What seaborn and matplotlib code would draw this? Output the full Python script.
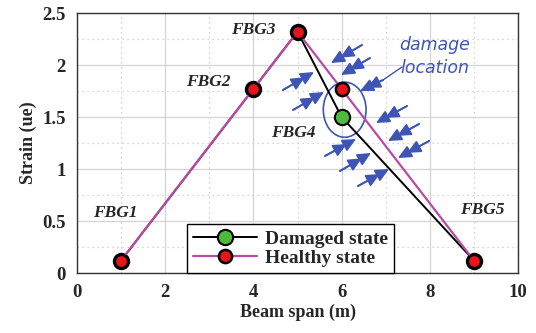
import matplotlib
matplotlib.use("Agg")
import matplotlib.pyplot as plt
import seaborn as sns
import pandas as pd
from matplotlib.patches import Ellipse
from matplotlib.ticker import MultipleLocator

positions = [1, 4, 5, 6, 9]
healthy = [0.12, 1.77, 2.32, 1.77, 0.12]
damaged = [0.12, 1.77, 2.32, 1.50, 0.12]
sensor_labels = ["FBG1", "FBG2", "FBG3", "FBG4", "FBG5"]
xticks = [0, 2, 4, 6, 8, 10]
yticks = [0, 0.5, 1, 1.5, 2, 2.5]

sns.set_style("white")
plt.rcParams['font.family'] = ['Liberation Serif', 'DejaVu Serif']

fig = plt.figure(figsize=(5.36, 3.33), dpi=100)
ax = fig.add_axes([77/536, 1-273/333, (518-77)/536, (273-13)/333])

df_d = pd.DataFrame({"x": positions, "y": damaged})
df_h = pd.DataFrame({"x": positions, "y": healthy})

sns.lineplot(data=df_d, x="x", y="y", ax=ax, color="black", lw=1.4,
             marker="o", markersize=11, markerfacecolor="#4cbb3c",
             markeredgecolor="black", markeredgewidth=1.5, label="Damaged state",
             zorder=3)
sns.lineplot(data=df_h, x="x", y="y", ax=ax, color="#b84ba3", lw=1.6,
             marker="o", markersize=9.5, markerfacecolor="#e8141b",
             markeredgecolor="black", markeredgewidth=1.8, label="Healthy state",
             zorder=4)

ax.set_xlim(0, 10)
ax.set_ylim(0, 2.5)
ax.set_xticks(xticks)
ax.set_yticks(yticks)
ax.set_xticklabels([f"{t:g}" for t in xticks])
ax.set_yticklabels([f"{t:g}" for t in yticks])
ax.xaxis.set_minor_locator(MultipleLocator(1))
ax.yaxis.set_minor_locator(MultipleLocator(0.25))
ax.grid(which="major", color="#d4d4d4", lw=0.9, ls="-")
ax.grid(which="minor", color="#c8c8c8", lw=0.9, ls=(0, (1, 3)))
ax.tick_params(axis="both", which="major", labelsize=13.5, direction="in",
               length=4, width=0.8, pad=8)
ax.tick_params(which="minor", length=0)
for lab in ax.get_xticklabels() + ax.get_yticklabels():
    lab.set_fontweight("bold")
for s in ax.spines.values():
    s.set_color("#333333")
    s.set_linewidth(1.0)

ax.set_xlabel("Beam span (m)", fontsize=13, fontweight="bold", labelpad=2)
ax.set_ylabel("Strain (ue)", fontsize=13, fontweight="bold", labelpad=4)

lab_pos = [(0.86, 0.58), (2.97, 1.84), (3.99, 2.34), (4.90, 1.35), (9.18, 0.61)]
for (tx, ty), s in zip(lab_pos, sensor_labels):
    ax.text(tx, ty, s, fontsize=12.5, fontweight="bold", style="italic",
            ha="center", va="center", zorder=6)

blue = "#3e55b5"
ax.text(8.12, 2.19, "damage", fontsize=12.5, style="italic", color=blue,
        family=["DejaVu Sans"], ha="center", va="center")
ax.text(8.12, 1.97, "location", fontsize=12.5, style="italic", color=blue,
        family=["DejaVu Sans"], ha="center", va="center")

ax.add_patch(Ellipse((6.07, 1.57), 0.97, 0.53, angle=0, fill=False,
                     edgecolor=blue, lw=1.2, zorder=2))

def px2d(px, py):
    return ((px - 77) / 44.1, (273 - py) / 104.0)

arrows = [
    ((362, 45), (331, 63)),
    ((370, 58), (341, 75)),
    ((283, 90), (314, 72)),
    ((293, 110), (324, 92)),
    ((383, 80), (360, 91)),
    ((407, 106), (376, 123)),
    ((419, 124), (388, 141)),
    ((429, 141), (398, 158)),
    ((325, 156), (356, 139)),
    ((340, 171), (371, 153)),
    ((358, 186), (389, 169)),
]
style = "-|>,head_length=0.8,head_width=0.38"
for tail, head in arrows:
    t = px2d(*tail)
    h = px2d(*head)
    ax.annotate("", xy=h, xytext=t,
                arrowprops=dict(arrowstyle=style, color=blue, lw=1.3,
                                shrinkA=0, shrinkB=0), zorder=5)
    mx = (t[0] * 0.3 + h[0] * 0.7, t[1] * 0.3 + h[1] * 0.7)
    ax.annotate("", xy=mx, xytext=t,
                arrowprops=dict(arrowstyle=style, color=blue, lw=1.3,
                                shrinkA=0, shrinkB=0), zorder=5)
# pointer line from text
ax.plot(*zip(px2d(402, 67), px2d(383, 80)), color=blue, lw=1.0)

leg = ax.legend(loc="lower left", bbox_to_anchor=((187-77)/441, 0), frameon=True,
                fancybox=False, edgecolor="black", framealpha=1,
                prop={"weight": "bold", "size": 14}, handlelength=3.3,
                borderpad=0.3, labelspacing=0.1, handletextpad=0.4,
                borderaxespad=0)
leg.get_frame().set_linewidth(1.0)
leg.set_zorder(10)

fig.savefig("out.png", dpi=100)
